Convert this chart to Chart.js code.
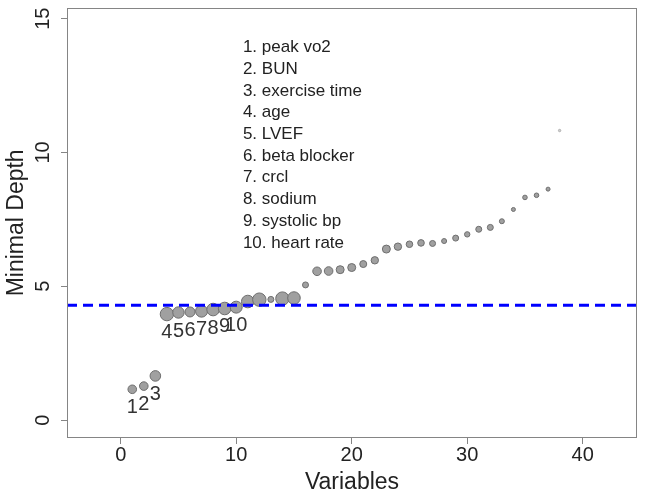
<!DOCTYPE html>
<html><head><meta charset="utf-8">
<script src="https://cdn.jsdelivr.net/npm/chart.js@4.4.1/dist/chart.umd.min.js"></script>
<style>html,body{margin:0;padding:0;background:#fff;} #wrap{width:645px;height:499px;}</style>
</head><body><div id="wrap"><canvas id="c" width="645" height="499"></canvas></div>
<script>
const variableIndex = [1,2,3,4,5,6,7,8,9,10,11,12,13,14,15,16,17,18,19,20,21,22,23,24,25,26,27,28,29,30,31,32,33,34,35,36,37,38];
const minimalDepth = [1.15,1.27,1.65,3.96,4.02,4.04,4.07,4.13,4.17,4.22,4.43,4.50,4.51,4.54,4.56,5.05,5.56,5.57,5.62,5.70,5.83,5.97,6.39,6.48,6.57,6.62,6.60,6.69,6.80,6.94,7.13,7.20,7.43,7.87,8.32,8.40,8.63,10.82];
const pointRadius = [4.3,4.3,5.3,6.7,5.7,5,6,6.3,6.3,6,6.3,6.7,3,6.7,6.3,3,4.3,4.3,4,4,3.5,3.7,4,3.7,3.3,3.3,3,2.5,3,2.7,3,3,2.5,2,2.3,2.3,2,1.2];
const threshold = 4.29;
const topVariables = ["peak vo2","BUN","exercise time","age","LVEF","beta blocker","crcl","sodium","systolic bp","heart rate"];
const xTicks = [0,10,20,30,40];
const yTicks = [0,5,10,15];
const xRange = [-4.65, 44.7];
const yRange = [-0.67, 15.41];
const legendX = 10.58;
const legendY = 13.92;

const FONT = '"Liberation Sans", Arial, sans-serif';
const fills = minimalDepth.map((v,i)=> i===minimalDepth.length-1 ? '#cfcfcf' : '#a0a0a0');
const borders = minimalDepth.map((v,i)=> i===minimalDepth.length-1 ? '#b0b0b0' : '#6e6e6e');

const decor = {
  id: 'decor',
  afterDatasetsDraw(chart) {
    const {ctx, scales:{x, y}} = chart;
    ctx.save();
    ctx.fillStyle = '#333';
    ctx.font = '20px ' + FONT;
    ctx.textAlign = 'center';
    ctx.textBaseline = 'middle';
    topVariables.forEach((n, i) => {
      const px = x.getPixelForValue(variableIndex[i]);
      const py = y.getPixelForValue(minimalDepth[i]) + 18.5;
      ctx.fillText(String(i + 1), px, py);
    });
    ctx.fillStyle = '#222';
    ctx.textAlign = 'left';
    ctx.font = '17px ' + FONT;
    const lx = x.getPixelForValue(legendX), ly = y.getPixelForValue(legendY);
    topVariables.forEach((n, i) => ctx.fillText((i + 1) + '. ' + n, lx, ly + i * 21.7));
    ctx.restore();
  },
  afterDraw(chart) {
    const {ctx, chartArea:a, scales:{y}} = chart;
    ctx.save();
    ctx.strokeStyle = '#858585';
    ctx.lineWidth = 1;
    ctx.strokeRect(Math.round(a.left) + 0.5, Math.round(a.top) + 0.5, Math.round(a.right - a.left) - 1, Math.round(a.bottom - a.top) - 1);
    ctx.fillStyle = '#222';
    ctx.font = '20px ' + FONT;
    ctx.textAlign = 'center';
    ctx.textBaseline = 'middle';
    yTicks.forEach(v => {
      const py = y.getPixelForValue(v);
      ctx.save();
      ctx.translate(43, py);
      ctx.rotate(-Math.PI / 2);
      ctx.fillText(String(v), 0, 0);
      ctx.restore();
    });
    ctx.restore();
  }
};

new Chart(document.getElementById('c'), {
  type: 'scatter',
  data: {
    datasets: [
      {
        type: 'line',
        data: [{x: xRange[0], y: threshold}, {x: xRange[1], y: threshold}],
        borderColor: '#0000ff', borderWidth: 3, borderDash: [10, 6],
        pointRadius: 0, fill: false, order: 0
      },
      {
        data: variableIndex.map((v, i) => ({x: v, y: minimalDepth[i]})),
        pointRadius: pointRadius,
        pointHoverRadius: pointRadius,
        backgroundColor: fills,
        borderColor: borders,
        borderWidth: 1,
        order: 1
      }
    ]
  },
  options: {
    responsive: false,
    animation: false,
    events: [],
    layout: {padding: {top: 7, right: 8, left: 0, bottom: 0}},
    plugins: {legend: {display: false}, tooltip: {enabled: false}},
    scales: {
      x: {
        type: 'linear', min: xRange[0], max: xRange[1],
        afterBuildTicks: s => { s.ticks = xTicks.map(v => ({value: v})); },
        afterFit: s => { s.height = 61; },
        grid: {display: true, drawOnChartArea: false, drawTicks: true, tickLength: 6, color: '#858585'},
        border: {display: false},
        ticks: {color: '#222', font: {size: 20, family: FONT, lineHeight: 1}, padding: 1, maxRotation: 0, autoSkip: false, callback: v => String(v)},
        title: {display: true, text: 'Variables', color: '#222', font: {size: 23, family: FONT, lineHeight: 1}, padding: {top: 0, bottom: 5}}
      },
      y: {
        type: 'linear', min: yRange[0], max: yRange[1],
        afterBuildTicks: s => { s.ticks = yTicks.map(v => ({value: v})); },
        afterFit: s => { s.width = 67; },
        grid: {display: true, drawOnChartArea: false, drawTicks: true, tickLength: 6, color: '#858585'},
        border: {display: false},
        ticks: {display: false},
        title: {display: true, text: 'Minimal Depth', color: '#222', font: {size: 23, family: FONT, lineHeight: 1}, padding: {top: 5, bottom: 0}}
      }
    }
  },
  plugins: [decor]
});
</script>
</body></html>
